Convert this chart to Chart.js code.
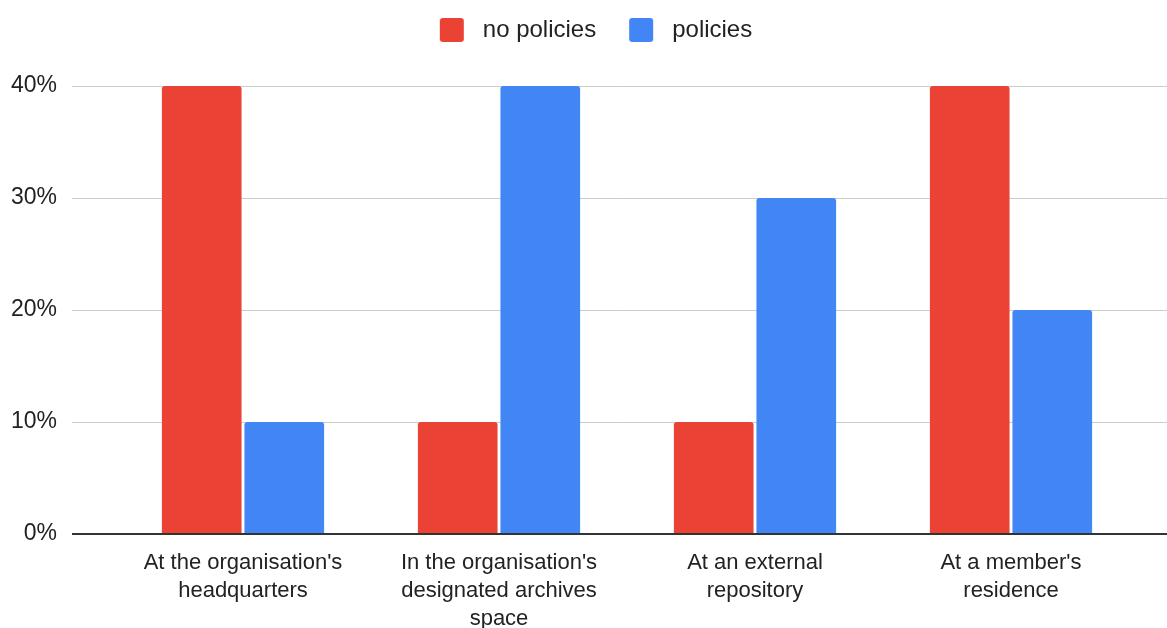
<!DOCTYPE html>
<html>
<head>
<meta charset="utf-8">
<script src="https://cdn.jsdelivr.net/npm/chart.js@4.4.1/dist/chart.umd.min.js"></script>
<style>
  html, body { margin: 0; padding: 0; background: #ffffff; }
  #wrap { width: 1167px; height: 628px; position: relative; }
</style>
</head>
<body>
<div id="wrap"><canvas id="c" width="1167" height="628"></canvas></div>
<script>
// ---- data ----
const categories = [
  ["At the organisation's", "headquarters"],
  ["In the organisation's", "designated archives", "space"],
  ["At an external", "repository"],
  ["At a member's", "residence"]
];
const seriesNames = ["no policies", "policies"];
const noPolicies = [0.40, 0.10, 0.10, 0.40];
const policies = [0.10, 0.40, 0.30, 0.20];
const yTicks = [0, 0.10, 0.20, 0.30, 0.40];
const yTickLabels = ["0%", "10%", "20%", "30%", "40%"];

// ---- styles ----
const COLORS = ['#EA4335', '#4285F4'];
const FONT = '"Liberation Sans", Arial, sans-serif';
const GRID_EXTEND_LEFT = 43;
const SWATCH = { lead: 25, size: 24, trail: 7, radius: 3 };

function makeSwatch(color) {
  const cv = document.createElement('canvas');
  cv.width = SWATCH.lead + SWATCH.size + SWATCH.trail;
  cv.height = SWATCH.size;
  const g = cv.getContext('2d');
  g.fillStyle = color;
  g.beginPath();
  g.roundRect(SWATCH.lead, 0, SWATCH.size, SWATCH.size, SWATCH.radius);
  g.fill();
  return cv;
}
const swatches = COLORS.map(makeSwatch);

const gridPlugin = {
  id: 'extGrid',
  beforeDatasetsDraw(chart) {
    const { ctx, chartArea, scales } = chart;
    const y = scales.y;
    ctx.save();
    ctx.strokeStyle = '#cccccc';
    ctx.lineWidth = 1;
    yTicks.forEach(v => {
      if (v === 0) return;
      const py = Math.round(y.getPixelForValue(v)) + 0.5;
      ctx.beginPath();
      ctx.moveTo(chartArea.left - GRID_EXTEND_LEFT, py);
      ctx.lineTo(chart.width, py);
      ctx.stroke();
    });
    ctx.restore();
  },
  afterDatasetsDraw(chart) {
    const { ctx, chartArea, scales } = chart;
    const py = scales.y.getPixelForValue(0);
    ctx.save();
    ctx.strokeStyle = '#333333';
    ctx.lineWidth = 2;
    ctx.beginPath();
    ctx.moveTo(chartArea.left - GRID_EXTEND_LEFT, py);
    ctx.lineTo(chart.width, py);
    ctx.stroke();
    ctx.restore();
  }
};

new Chart(document.getElementById('c'), {
  type: 'bar',
  data: {
    labels: categories,
    datasets: [
      { label: seriesNames[0], data: noPolicies, backgroundColor: COLORS[0], borderRadius: 3, borderSkipped: 'start' },
      { label: seriesNames[1], data: policies, backgroundColor: COLORS[1], borderRadius: 3, borderSkipped: 'start' }
    ]
  },
  options: {
    responsive: false,
    animation: false,
    devicePixelRatio: 1,
    categoryPercentage: 0.645,
    barPercentage: 0.965,
    layout: { padding: { left: 0, right: 0, top: 10, bottom: 0 } },
    plugins: {
      tooltip: { enabled: false },
      legend: {
        position: 'top',
        labels: {
          usePointStyle: true,
          pointStyleWidth: SWATCH.lead + SWATCH.size + SWATCH.trail,
          boxHeight: 24,
          padding: 8,
          color: '#222222',
          font: { family: FONT, size: 24 },
          generateLabels(chart) {
            const items = Chart.defaults.plugins.legend.labels.generateLabels(chart);
            items.forEach((it, i) => { it.pointStyle = swatches[i]; });
            return items;
          }
        }
      }
    },
    scales: {
      x: {
        grid: { display: false, drawTicks: false },
        border: { display: false },
        ticks: {
          color: '#222222',
          padding: 15,
          maxRotation: 0,
          autoSkip: false,
          font: { family: FONT, size: 22, lineHeight: '28px' }
        },
        afterFit(scale) { scale.height = 94; }
      },
      xTop: {
        type: 'category',
        position: 'top',
        grid: { display: false, drawTicks: false },
        border: { display: false },
        ticks: { display: false },
        afterFit(scale) { scale.height = 34; }
      },
      y: {
        min: 0,
        max: 0.4,
        grid: { display: false, drawTicks: false },
        border: { display: false },
        afterBuildTicks(scale) { scale.ticks = yTicks.map(v => ({ value: v })); },
        ticks: {
          color: '#222222',
          padding: 58,
          font: { family: FONT, size: 23 },
          callback: (v) => yTickLabels[yTicks.indexOf(v)] ?? ''
        },
        afterFit(scale) { scale.width = 115; }
      },
      yRight: {
        type: 'linear',
        position: 'right',
        grid: { display: false, drawTicks: false },
        border: { display: false },
        ticks: { display: false },
        afterFit(scale) { scale.width = 28; }
      }
    }
  },
  plugins: [gridPlugin]
});
</script>
</body>
</html>
